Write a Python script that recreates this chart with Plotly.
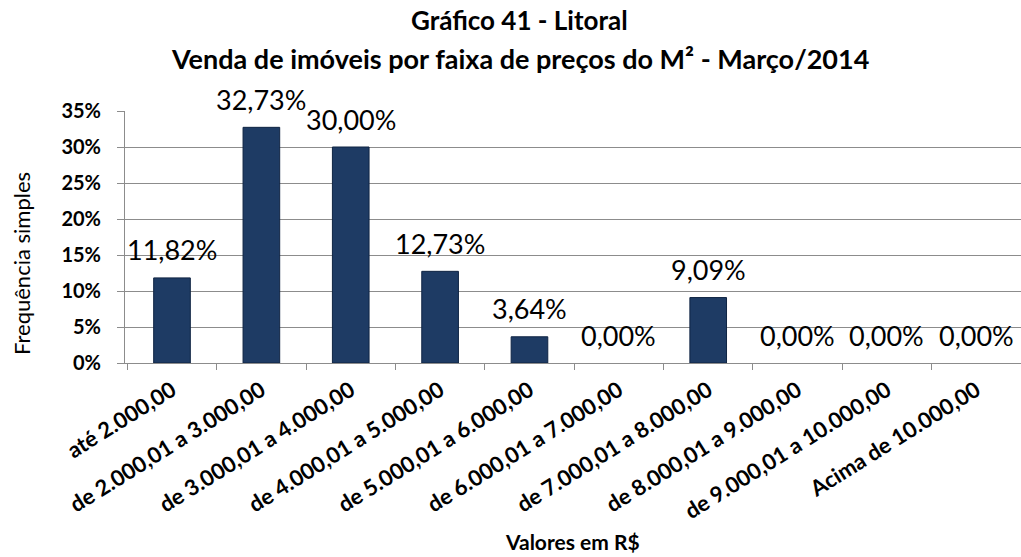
import plotly.graph_objects as go

# Price ranges per m² and share of sales in each range
faixas = [
    "até 2.000,00",
    "de 2.000,01 a 3.000,00",
    "de 3.000,01 a 4.000,00",
    "de 4.000,01 a 5.000,00",
    "de 5.000,01 a 6.000,00",
    "de 6.000,01 a 7.000,00",
    "de 7.000,01 a 8.000,00",
    "de 8.000,01 a 9.000,00",
    "de 9.000,01 a 10.000,00",
    "Acima de 10.000,00",
]
frequencia = [11.82, 32.73, 30.00, 12.73, 3.64, 0.00, 9.09, 0.00, 0.00, 0.00]

y_ticks = [0, 5, 10, 15, 20, 25, 30, 35]
y_tick_labels = [f"{v}%" for v in y_ticks]

titulo = "Gráfico 41 - Litoral"
subtitulo = "Venda de imóveis por faixa de preços do M² - Março/2014"
titulo_x = "Valores em R$"
titulo_y = "Frequência simples"

FONT = "Lato"
BLACK = "#000000"
GRID = "#8c8c8c"

# plot area in pixels
W, H = 1021, 557
ML, MR, MT, MB = 125, 0, 111, 194
PW, PH = W - ML - MR, H - MT - MB


def px_x(px):
    return (px - ML) / PW


def px_y(py):
    return (H - MB - py) / PH


fig = go.Figure()

fig.add_trace(go.Bar(
    x=faixas,
    y=frequencia,
    width=0.41,
    marker=dict(
        color="#1e3b64",
        line=dict(color="#0f2443", width=[1 if v > 0 else 0 for v in frequencia]),
    ),
    hoverinfo="skip",
))

# value labels above each bar
for cat, val in zip(faixas, frequencia):
    fig.add_annotation(
        x=cat, y=val, xref="x", yref="y",
        text=f"{val:.2f}%".replace(".", ","),
        showarrow=False, yshift=28,
        font=dict(family=FONT, size=27, color=BLACK),
    )

# chart title (two lines)
fig.add_annotation(
    x=px_x(519), y=px_y(20), xref="paper", yref="paper",
    xanchor="center", yanchor="middle", showarrow=False,
    text=titulo, font=dict(family=FONT, size=26, color=BLACK, weight="bold"),
)
fig.add_annotation(
    x=px_x(520), y=px_y(58), xref="paper", yref="paper",
    xanchor="center", yanchor="middle", showarrow=False,
    text=subtitulo, font=dict(family=FONT, size=27, color=BLACK, weight="bold"),
)

# axis titles
fig.add_annotation(
    x=px_x(572), y=px_y(541), xref="paper", yref="paper",
    xanchor="center", yanchor="middle", showarrow=False,
    text=titulo_x, font=dict(family=FONT, size=21, color=BLACK, weight="bold"),
)
fig.add_annotation(
    x=px_x(21), y=px_y(264), xref="paper", yref="paper",
    xanchor="center", yanchor="middle", showarrow=False, textangle=-90,
    text=titulo_y, font=dict(family=FONT, size=22, color=BLACK),
)

fig.update_layout(
    width=W, height=H,
    margin=dict(l=ML, r=MR, t=MT, b=MB),
    paper_bgcolor="white", plot_bgcolor="white",
    showlegend=False,
    bargap=0.59,
    font=dict(family=FONT, color=BLACK),
)

fig.update_xaxes(
    type="category",
    tickangle=-32,
    tickfont=dict(family=FONT, size=22, color=BLACK, weight="bold"),
    ticklabelstandoff=5,
    showline=True, linecolor=GRID, linewidth=1,
    ticks="outside", ticklen=6, tickcolor=GRID,
    tickson="boundaries",
    showgrid=False,
)

fig.update_yaxes(
    range=[0, 35],
    tickvals=y_ticks, ticktext=y_tick_labels,
    tickfont=dict(family=FONT, size=20, color=BLACK, weight="bold"),
    ticklabelstandoff=12,
    showline=True, linecolor=GRID, linewidth=1,
    ticks="outside", ticklen=7, tickcolor=GRID,
    showgrid=True, gridcolor=GRID, gridwidth=1,
    zeroline=False,
)

fig.write_html("out.html")
